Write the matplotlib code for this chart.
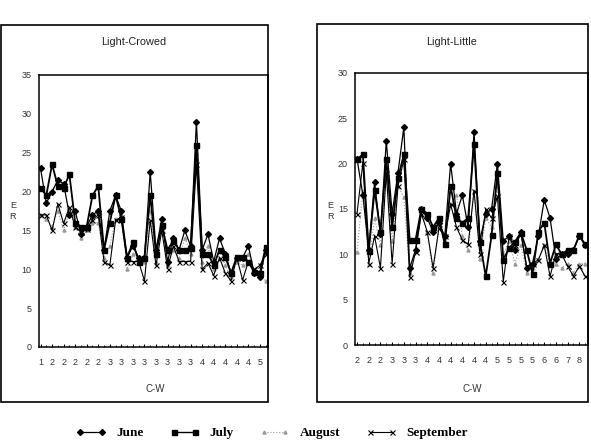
import matplotlib
matplotlib.use("Agg")
import matplotlib.pyplot as plt
from matplotlib.lines import Line2D
from matplotlib.patches import Rectangle
import numpy as np

# ---------------- data ----------------
lc_labels = ["1","2","2","2","2","2","3","3","3","3","3","3","3","3","4","4","4","4","4","5"]
ll_labels = ["2","2","2","3","3","3","4","4","4","4","4","4","5","5","5","5","6","6","7","8"]

lc_june = [23.0,18.5,20.0,21.5,21.0,17.0,17.5,14.5,15.5,17.0,17.5,12.5,17.5,19.5,17.5,11.5,13.0,11.5,11.5,22.5,
           12.5,16.5,11.0,14.0,12.5,15.0,13.0,29.0,12.5,14.5,11.0,14.0,12.0,9.5,11.5,11.5,13.0,9.5,9.0,12.5]
lc_july = [20.5,19.5,23.5,20.7,20.5,22.2,16.0,15.5,15.5,19.5,20.7,12.5,16.0,19.5,16.5,11.5,13.5,11.0,11.5,19.6,
           12.0,15.7,12.5,13.7,12.5,12.5,12.8,26.0,12.0,12.0,10.5,12.5,11.6,9.5,11.6,11.6,11.0,9.6,9.5,12.9]
lc_aug  = [17.0,16.5,15.5,17.5,15.0,17.5,15.5,14.0,15.0,16.0,16.0,11.5,13.0,16.5,16.5,10.0,12.0,11.0,11.0,17.5,
           11.0,16.0,10.5,12.5,11.5,14.0,12.0,25.0,11.0,13.0,10.0,12.5,10.5,9.0,11.0,10.5,12.0,9.5,9.0,8.5]
lc_sep  = [17.0,17.0,15.0,18.4,15.9,18.0,15.5,14.8,15.2,16.4,17.0,11.0,10.5,16.3,16.7,11.0,11.0,11.0,8.5,16.3,
           10.5,15.0,10.1,13.0,11.0,11.0,11.0,23.5,10.0,10.8,9.2,11.5,9.5,8.5,11.5,8.6,11.0,10.0,10.5,12.0]

ll_june = [20.5,16.5,10.5,18.0,12.2,22.5,14.5,19.0,24.0,8.5,10.5,15.0,14.0,12.5,13.5,12.0,20.0,14.5,16.5,13.0,
           23.5,11.5,14.5,15.0,20.0,11.5,12.0,10.5,12.5,8.5,9.0,12.0,16.0,14.0,9.5,10.0,10.0,10.5,12.0,11.0]
ll_july = [20.5,21.0,10.4,17.1,12.5,20.5,13.0,18.4,21.0,11.6,11.6,15.0,14.5,13.0,14.0,11.1,17.5,14.0,13.5,14.0,
           22.1,11.4,7.6,12.1,19.0,9.4,10.7,11.4,12.4,10.5,7.9,12.5,13.5,9.0,11.1,10.0,10.5,10.5,12.1,11.1]
ll_aug  = [10.3,17.0,9.0,14.0,11.0,19.0,11.5,17.5,16.3,8.0,10.5,14.5,12.5,8.0,13.0,11.5,15.5,16.5,12.0,10.5,
           17.0,9.5,14.0,13.0,17.5,10.0,11.5,9.0,11.0,8.0,8.5,9.5,11.0,9.0,9.0,8.5,9.0,8.0,9.0,9.0]
ll_sep  = [14.5,20.1,9.0,12.0,8.5,19.0,9.0,17.5,20.5,7.5,10.3,14.5,12.5,8.5,12.9,12.0,15.5,13.0,11.6,11.1,
           17.0,10.1,15.0,14.0,16.4,7.0,12.0,11.0,12.4,8.7,9.0,9.4,11.0,7.6,10.1,10.0,8.7,7.6,8.7,7.6]

series_names = ["June", "July", "August", "September"]

# ---------------- styles ----------------
styles = {
    "June":      dict(color="black", lw=0.9, ls="-", marker="D", ms=3.0, mfc="black", mec="black"),
    "July":      dict(color="black", lw=1.3, ls="-", marker="s", ms=3.6, mfc="black", mec="black"),
    "August":    dict(color="#9a9a9a", lw=0.8, ls=":", marker="^", ms=2.2, mfc="#9a9a9a", mec="#9a9a9a"),
    "September": dict(color="black", lw=0.8, ls="-", marker="x", ms=3.6, mew=0.8, mec="black"),
}

W, H = 591, 446
fig = plt.figure(figsize=(W/100, H/100), dpi=100)
sans = ["Liberation Sans", "DejaVu Sans"]

def px_rect(x0, y0, x1, y1):
    return [x0/W, (H-y1)/H, (x1-x0)/W, (y1-y0)/H]

def draw_panel(rect, frame, title, ymax, labels, data, title_x, ylab_x, xlab_x):
    fx0, fy0, fx1, fy1 = frame
    fig.patches.append(Rectangle((fx0/W, (H-fy1)/H), (fx1-fx0)/W, (fy1-fy0)/H,
                                 transform=fig.transFigure, fill=False,
                                 edgecolor="black", lw=1.2))
    ax = fig.add_axes(rect)
    n = len(data[0])
    x = np.arange(n)
    for name, vals in zip(series_names, data):
        ax.plot(x, vals, **styles[name], zorder=3 if name != "August" else 2)
    ax.set_xlim(-0.35, n - 0.6)
    ax.set_ylim(0, ymax)
    ax.set_yticks(np.arange(0, ymax + 1, 5))
    ax.set_xticks(np.arange(0, n, 2))
    ax.set_xticklabels(labels)
    ax.set_xticks(np.arange(n), minor=True)
    ax.tick_params(axis="x", which="major", length=2, direction="in", pad=8, labelsize=6.5)
    ax.tick_params(axis="x", which="minor", length=1.5, direction="in")
    ax.tick_params(axis="y", which="major", length=0, pad=5, labelsize=6.5)
    for lab in ax.get_xticklabels() + ax.get_yticklabels():
        lab.set_fontfamily(sans)
        lab.set_color("#333333")
    for sp in ax.spines.values():
        sp.set_linewidth(1.1)
    fig.text(title_x/W, (H-42)/H, title, ha="center", va="center",
             fontsize=7.8, family=sans, color="#222222")
    fig.text(ylab_x/W, (H-211)/H, "E\nR", ha="center", va="center",
             fontsize=6.5, family=sans, color="#333333", linespacing=1.2)
    fig.text(xlab_x/W, (H-389)/H, "C-W", ha="center", va="center",
             fontsize=7, family=sans, color="#333333")
    return ax

draw_panel(px_rect(38.5, 75, 268, 347), (1, 25, 268, 402), "Light-Crowed", 35,
           lc_labels, [lc_june, lc_july, lc_aug, lc_sep], 134, 13, 155)
draw_panel(px_rect(355, 72.7, 587.5, 345.3), (316.7, 24.3, 587.5, 401.7), "Light-Little", 30,
           ll_labels, [ll_june, ll_july, ll_aug, ll_sep], 452, 330, 472)

legend_styles = {k: dict(v) for k, v in styles.items()}
for v in legend_styles.values():
    v["lw"] = min(v["lw"], 1.0)
handles = [Line2D([0], [0], **legend_styles[n]) for n in series_names]
fig.legend(handles, series_names, loc="center", bbox_to_anchor=(272/W, (H-433)/H),
           ncol=4, frameon=False, handlelength=2.2, handletextpad=0.8,
           columnspacing=2.0, numpoints=2,
           prop=dict(family=["Liberation Serif", "DejaVu Serif"], weight="bold", size=9.5))

fig.savefig("out.png", dpi=100)
